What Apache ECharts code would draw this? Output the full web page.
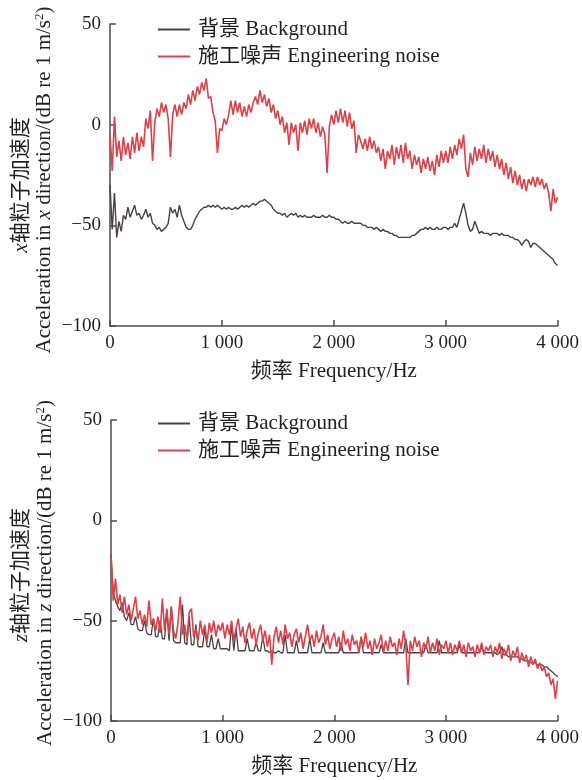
<!DOCTYPE html>
<html>
<head>
<meta charset="utf-8">
<title>Acceleration spectrum</title>
<script src="https://cdn.jsdelivr.net/npm/echarts@6.0.0/dist/echarts.min.js"></script>
<style>
    html, body { margin: 0; padding: 0; background: #fff; }
    #chart { width: 582px; height: 780px; }
</style>
</head>
<body>
<div id="chart"></div>
<script>
// sampled every 20 Hz, 0 .. 4000 Hz
var freqStep = 20;

var xTickLabels = ['0', '1 000', '2 000', '3 000', '4 000'];
var seriesNames = ['背景 Background', '施工噪声 Engineering noise'];

// x direction, engineering noise
var topNoise = [
    -5, -23, 4, -16, -8, -18, -6, -15, -9, -17,
    -6, -14, -4, -13, -6, -11, 3, -2, 7, -18,
    1, 8, 4, 11, 6, 10, 3, -16, 5, 10,
    4, 10, 5, 11, 8, 15, 10, 17, 12, 19,
    15, 21, 17, 23, 13, 14, 6, 2, -14, -2,
    -3, 3, 0, 5, 12, 5, 12, 6, 11, 4,
    9, 4, 10, 6, 11, 14, 10, 17, 11, 15,
    9, 13, 6, 10, 3, 7, 0, 4, -4, 1,
    -10, 1, -4, 0, -13, 1, -4, 2, -5, 3,
    -2, 3, -4, 1, -6, -1, -5, -24, -1, 5,
    0, 7, 1, 8, 1, 7, -1, 6, -2, 2,
    -14, -5, -8, -12, -7, -13, -6, -12, -8, -14,
    -11, -18, -12, -22, -13, -17, -10, -20, -11, -17,
    -10, -19, -9, -17, -13, -22, -15, -20, -16, -24,
    -17, -22, -16, -23, -18, -25, -15, -21, -13, -19,
    -13, -19, -11, -17, -10, -15, -7, -12, -5, -22,
    -26, -14, -20, -11, -18, -12, -17, -10, -19, -12,
    -18, -13, -21, -15, -22, -17, -25, -19, -27, -21,
    -29, -23, -30, -25, -32, -27, -33, -27, -30, -26,
    -31, -26, -30, -27, -32, -29, -34, -43, -32, -39,
    -36
];

// x direction, background
var topBackground = [
    -30, -52, -34, -56, -48, -53, -45, -47, -41, -46,
    -43, -40, -45, -44, -47, -45, -42, -46, -44, -49,
    -50, -52, -51, -53, -52, -51, -49, -41, -44, -42,
    -46, -40, -45, -48, -51, -52, -52, -50, -47, -45,
    -43, -42, -41, -41, -40, -41, -40, -41, -40, -41,
    -42, -41, -42, -41, -42, -42, -41, -42, -41, -40,
    -41, -40, -41, -40, -39, -40, -39, -38, -38, -37,
    -38, -39, -40, -42, -43, -44, -44, -45, -44, -46,
    -45, -44, -45, -44, -46, -45, -46, -45, -46, -46,
    -46, -45, -46, -46, -46, -45, -46, -46, -45, -46,
    -46, -47, -47, -48, -49, -48, -49, -49, -48, -49,
    -49, -49, -49, -50, -50, -51, -51, -51, -52, -51,
    -52, -53, -52, -53, -53, -54, -54, -55, -55, -56,
    -56, -56, -56, -56, -56, -55, -55, -54, -53, -52,
    -52, -51, -52, -51, -52, -52, -51, -52, -52, -51,
    -51, -52, -51, -51, -49, -51, -47, -43, -39, -44,
    -50, -53, -52, -48, -51, -54, -53, -54, -54, -54,
    -55, -54, -54, -54, -55, -54, -55, -55, -55, -56,
    -56, -57, -57, -58, -60, -58, -57, -58, -61, -59,
    -59, -60, -61, -62, -63, -64, -65, -66, -67, -69,
    -70
];

// z direction, engineering noise
var bottomNoise = [
    -17, -40, -29, -42, -37, -46, -38, -47, -42, -50,
    -44, -38, -49, -45, -52, -47, -53, -40, -52, -49,
    -55, -48, -56, -39, -55, -44, -57, -43, -55, -59,
    -51, -38, -57, -52, -60, -46, -44, -58, -54, -60,
    -50, -57, -52, -61, -51, -56, -50, -58, -52, -55,
    -51, -59, -52, -57, -50, -60, -54, -49, -58, -53,
    -61, -55, -51, -59, -54, -62, -56, -52, -60, -55,
    -63, -57, -72, -58, -53, -61, -55, -62, -52, -59,
    -56, -63, -57, -54, -61, -56, -64, -58, -52, -60,
    -57, -63, -55, -61, -58, -52, -62, -57, -64, -59,
    -56, -63, -58, -65, -55, -62, -59, -65, -57, -62,
    -60, -66, -58, -63, -56, -64, -60, -67, -59, -64,
    -61, -57, -66, -60, -65, -58, -63, -61, -67, -59,
    -64, -55, -62, -82, -60, -65, -58, -63, -60, -68,
    -61, -64, -58, -66, -61, -65, -59, -67, -62, -64,
    -60, -66, -61, -67, -62, -65, -60, -66, -62, -68,
    -61, -65, -63, -68, -62, -66, -61, -67, -63, -65,
    -62, -68, -63, -66, -61, -69, -64, -67, -62, -70,
    -65, -68, -63, -71, -66, -70, -67, -73, -68, -72,
    -69, -74, -71, -75, -73, -78, -76, -82, -79, -89,
    -80
];

// z direction, background
var bottomBackground = [
    -17, -36, -40, -43, -45, -41, -48, -50, -46, -52,
    -52, -48, -54, -55, -55, -50, -56, -57, -57, -49,
    -58, -58, -50, -59, -59, -45, -60, -43, -60, -61,
    -61, -61, -42, -61, -62, -48, -62, -62, -52, -63,
    -63, -63, -54, -63, -63, -57, -64, -64, -59, -64,
    -64, -64, -64, -65, -52, -65, -54, -65, -65, -65,
    -65, -59, -65, -65, -65, -61, -65, -65, -58, -65,
    -65, -66, -65, -66, -66, -65, -66, -66, -57, -66,
    -66, -66, -66, -60, -66, -66, -66, -66, -66, -59,
    -66, -66, -66, -66, -66, -61, -66, -66, -66, -66,
    -66, -66, -66, -61, -66, -66, -66, -66, -66, -66,
    -66, -66, -58, -66, -66, -66, -66, -66, -66, -66,
    -66, -62, -66, -66, -66, -66, -66, -66, -66, -66,
    -66, -66, -59, -66, -66, -66, -66, -66, -66, -66,
    -66, -62, -66, -66, -66, -66, -66, -60, -66, -66,
    -66, -66, -66, -66, -66, -66, -62, -66, -66, -66,
    -66, -66, -66, -66, -66, -66, -63, -66, -66, -66,
    -66, -66, -66, -67, -66, -63, -67, -67, -68, -68,
    -68, -68, -68, -69, -69, -70, -70, -70, -71, -71,
    -71, -72, -72, -72, -73, -73, -74, -75, -76, -77,
    -78
];

var fontFamily = '"Liberation Serif", "Noto Sans CJK SC", serif';
var textColor = '#231f20';
var axisColor = '#4d4d4d';
var noiseColor = '#d9424b';
var backgroundColor = '#4a413f';

var toPairs = function(values) {
    return values.map(function(v, i) {
        return [i * freqStep, v];
    });
};

var makeXAxis = function(gridIndex) {
    return {
        type: 'value',
        gridIndex: gridIndex,
        min: 0,
        max: 4000,
        interval: 1000,
        name: '频率 Frequency/Hz',
        nameLocation: 'middle',
        nameGap: 35,
        nameTextStyle: { fontSize: 21, color: textColor, fontFamily: fontFamily },
        axisLine: { onZero: false, lineStyle: { color: axisColor, width: 1.5 } },
        axisTick: { inside: true, length: 6, lineStyle: { color: axisColor, width: 1.5 } },
        axisLabel: {
            fontSize: 19,
            color: textColor,
            fontFamily: fontFamily,
            margin: 8,
            formatter: function(v) { return xTickLabels[Math.round(v / 1000)]; }
        },
        splitLine: { show: false }
    };
};

var makeYAxis = function(gridIndex) {
    return {
        type: 'value',
        gridIndex: gridIndex,
        min: -100,
        max: 50,
        interval: 50,
        axisLine: { show: true, onZero: false, lineStyle: { color: axisColor, width: 1.5 } },
        axisTick: { show: true, inside: true, length: 6, lineStyle: { color: axisColor, width: 1.5 } },
        axisLabel: {
            fontSize: 19,
            color: textColor,
            fontFamily: fontFamily,
            margin: 9,
            formatter: function(v) { return String(v).replace('-', '\u2212'); }
        },
        splitLine: { show: false }
    };
};

var makeLegend = function(top) {
    return {
        orient: 'vertical',
        left: 153,
        top: top,
        icon: 'rect',
        itemWidth: 32,
        itemHeight: 2,
        itemGap: 6,
        data: seriesNames,
        textStyle: { fontSize: 21, color: textColor, fontFamily: fontFamily, padding: [0, 0, 0, 3] }
    };
};

var makeSeries = function(name, data, index, color, width) {
    return {
        name: name,
        type: 'line',
        xAxisIndex: index,
        yAxisIndex: index,
        data: toPairs(data),
        symbol: 'none',
        animation: false,
        lineStyle: { color: color, width: width },
        itemStyle: { color: color }
    };
};

var richStyles = {
    i: { fontStyle: 'italic', fontSize: 21, fontFamily: fontFamily, fill: textColor },
    sup: { fontSize: 13, fontFamily: fontFamily, fill: textColor, verticalAlign: 'top', padding: [0, 0, 9, 0] }
};

var makeAxisTitle = function(x, y, text) {
    return {
        type: 'text',
        x: x,
        y: y,
        rotation: Math.PI / 2,
        style: {
            text: text,
            fontSize: 21,
            fontFamily: fontFamily,
            fill: textColor,
            align: 'center',
            verticalAlign: 'middle',
            rich: richStyles
        }
    };
};

var chartDom = document.getElementById('chart');
var myChart = echarts.init(chartDom, null, { renderer: 'canvas' });

var chartOption = {
    animation: false,
    textStyle: { fontFamily: fontFamily },
    grid: [
        { left: 110, top: 24, width: 453, height: 302 },
        { left: 111, top: 420, width: 454, height: 301 }
    ],
    xAxis: [makeXAxis(0), makeXAxis(1)],
    yAxis: [makeYAxis(0), makeYAxis(1)],
    legend: [makeLegend(14), makeLegend(408)],
    graphic: [
        makeAxisTitle(21, 185, '{i|x}轴粒子加速度'),
        makeAxisTitle(44, 180, 'Acceleration in {i|x} direction/(dB re 1 m/s{sup|2})'),
        makeAxisTitle(21, 575, '{i|z}轴粒子加速度'),
        makeAxisTitle(45, 573, 'Acceleration in {i|z} direction/(dB re 1 m/s{sup|2})')
    ],
    series: [
        makeSeries(seriesNames[0], topBackground, 0, backgroundColor, 1.4),
        makeSeries(seriesNames[1], topNoise, 0, noiseColor, 1.6),
        makeSeries(seriesNames[0], bottomBackground, 1, backgroundColor, 1.3),
        makeSeries(seriesNames[1], bottomNoise, 1, noiseColor, 1.6)
    ]
};

if (chartOption && typeof chartOption === 'object') {
    myChart.setOption(chartOption, true);
}
</script>
</body>
</html>
